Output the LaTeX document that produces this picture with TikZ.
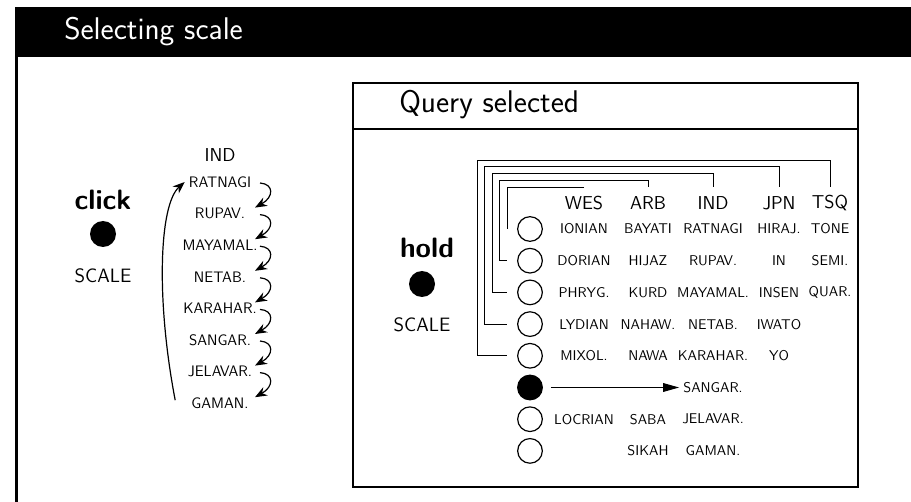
\documentclass[tikz,border=0pt]{standalone}
\usetikzlibrary{arrows.meta,calc}

\begin{document}
\begin{tikzpicture}[x=0.75pt, y=-0.75pt,
    title/.style={font=\sffamily\fontsize{23.5}{28}\selectfont, inner sep=0pt, anchor=west},
    bigword/.style={font=\sffamily\bfseries\fontsize{21}{25}\selectfont, inner sep=0pt},
    caption/.style={font=\sffamily\fontsize{14.5}{17}\selectfont, inner sep=0pt},
    colhead/.style={font=\sffamily\fontsize{14}{16}\selectfont, inner sep=0pt},
    litem/.style={font=\sffamily\fontsize{11.4}{13}\selectfont, inner sep=0pt},
    cell/.style={font=\sffamily\fontsize{10.6}{12}\selectfont, inner sep=0pt},
    bigdot/.style={circle, fill=black, minimum size=19.5pt, inner sep=0pt},
    ring/.style={circle, draw, line width=0.9pt, minimum size=18.5pt, inner sep=0pt},
    curl/.style={line width=0.9pt, -{Stealth[length=9pt, width=7pt]}},
    link/.style={line width=0.7pt},
    pointer/.style={line width=0.9pt, -{Triangle[length=12pt, width=6.5pt]}}]
\useasboundingbox (0,0) rectangle (911,502);

% Outer frame
\fill[black] (15,7) rectangle (940,57);
\draw[line width=2.2pt] (16.5,57) -- (16.5,520);
\node[title, text=white] (head) at (64,32) {Selecting scale};

% Click side
\node[bigword] (click) at (103,200) {click};
\node[bigdot] (clickdot) at (103,234) {};
\node[caption] (clickscale) at (103,276) {SCALE};

\node[colhead] (lind) at (220,155) {IND};
\foreach \name [count=\i] in {RATNAGI, RUPAV., MAYAMAL., NETAB., KARAHAR., SANGAR., JELAVAR., GAMAN.}
        \node[litem] (l\i) at (220, {182+31.6*(\i-1)}) {\name};

\foreach \i in {1,...,7} {
        \pgfmathtruncatemacro\j{\i+1}
        \draw[curl] ($(l\i.center)+(40,1)$) .. controls ($(l\i.center)+(54,2)$) and ($(l\i.center)+(54,15)$) .. ($(l\j.center)+(35,-6)$);
}
\draw[curl] ($(l8.west)+(-16,-3)$) .. controls (156,300) and (159,205) .. ($(l1.west)+(-4,0)$);

% Query box
\draw[line width=1.8pt] (353,83) rectangle (858,487);
\draw[line width=1.8pt] (353,129) -- (858,129);
\node[title] (query) at (399,105) {Query selected};

\node[bigword] (hold) at (427,248) {hold};
\node[bigdot] (holddot) at (422,284) {};
\node[caption] (holdscale) at (422,325) {SCALE};

\foreach \i in {1,...,8}
        \node[ring] (c\i) at (530, {229+31.7*(\i-1)}) {};
\node[bigdot, minimum size=18.5pt] at (c6) {};

\node[colhead] (wes) at (584,203) {WES};
\node[colhead] (arb) at (648,203) {ARB};
\node[colhead] (ind) at (713,203) {IND};
\node[colhead] (jpn) at (779,203) {JPN};
\node[colhead] (tsq) at (830,203) {TSQ};

\foreach \r/\t in {1/IONIAN, 2/DORIAN, 3/PHRYG., 4/LYDIAN, 5/MIXOL., 7/LOCRIAN}
        \node[cell] (wes\r) at (wes |- c\r) {\t};
\foreach \r/\t in {1/BAYATI, 2/HIJAZ, 3/KURD, 4/NAHAW., 5/NAWA, 7/SABA, 8/SIKAH}
        \node[cell] (arb\r) at (arb |- c\r) {\t};
\foreach \r/\t in {1/RATNAGI, 2/RUPAV., 3/MAYAMAL., 4/NETAB., 5/KARAHAR., 6/SANGAR., 7/JELAVAR., 8/GAMAN.}
        \node[cell] (ind\r) at (ind |- c\r) {\t};
\foreach \r/\t in {1/HIRAJ., 2/IN, 3/INSEN, 4/IWATO, 5/YO}
        \node[cell] (jpn\r) at (jpn |- c\r) {\t};
\foreach \r/\t in {1/TONE, 2/SEMI., 3/QUAR.}
        \node[cell] (tsq\r) at (tsq |- c\r) {\t};

% Brackets from rows to columns
\foreach \i/\h/\dx/\up in {1/wes/0/0, 2/arb/7.5/7, 3/ind/15/14, 4/jpn/22.5/21, 5/tsq/30/27}
        \draw[link] ($(\h.center)+(0,-16)$) -- ++(0,-\up) -| ($(c\i.west)+(-10-\dx,0)$) -- ($(c\i.west)+(-10,0)$);

\draw[pointer] ($(c6.east)+(8,0)$) -- ($(ind6.west)+(-4,0)$);
\end{tikzpicture}
\end{document}
